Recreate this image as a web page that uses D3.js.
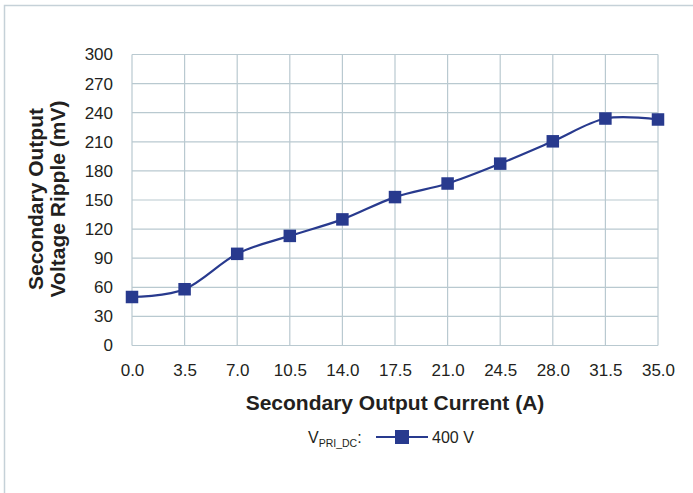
<!DOCTYPE html>
<html><head><meta charset="utf-8">
<script src="https://cdn.jsdelivr.net/npm/d3@7"></script>
<style>body{margin:0;background:#fff;}svg{display:block;font-family:"Liberation Sans",Arial,sans-serif;}</style>
</head><body>
<svg id="c" width="693" height="493"></svg>
<script>
const currents = [0, 3.5, 7.0, 10.5, 14.0, 17.5, 21.0, 24.5, 28.0, 31.5, 35.0];
const ripple400 = [50, 58, 94.5, 113, 130, 153, 167, 187.5, 210.5, 234, 233];
const xTicks = [0, 3.5, 7.0, 10.5, 14.0, 17.5, 21.0, 24.5, 28.0, 31.5, 35.0];
const yTicks = [0, 30, 60, 90, 120, 150, 180, 210, 240, 270, 300];
const seriesName = "400 V";

const svg = d3.select("#c");
const L = 132, R = 658, T = 54.5, B = 345.5;
const x = d3.scaleLinear().domain([0, 35]).range([L, R]);
const y = d3.scaleLinear().domain([0, 300]).range([B, T]);
const grid = "#b9c9d0";
const col = "#283a8e";
const txt = "#231f20";

// outer border
svg.append("path").attr("d", "M4.5,493 L4.5,5.5 L693,5.5")
  .attr("fill", "none").attr("stroke", "#c5d1d8").attr("stroke-width", 1.5);

// grid
svg.append("g").selectAll("line").data(yTicks).join("line")
  .attr("x1", L).attr("x2", R).attr("y1", d => y(d)).attr("y2", d => y(d))
  .attr("stroke", grid).attr("stroke-width", 1.2);
svg.append("g").selectAll("line").data(xTicks).join("line")
  .attr("y1", T).attr("y2", B).attr("x1", d => x(d)).attr("x2", d => x(d))
  .attr("stroke", grid).attr("stroke-width", 1.2);

// axes labels
const yAxis = d3.axisLeft(y).tickValues(yTicks).tickSize(0).tickPadding(19).tickFormat(d3.format("d"));
const gy = svg.append("g").attr("transform", `translate(${L},0)`).call(yAxis);
gy.select(".domain").remove();
gy.selectAll("text").attr("font-size", 17).attr("fill", txt).attr("font-family", "Liberation Sans, Arial, sans-serif");

const xAxis = d3.axisBottom(x).tickValues(xTicks).tickSize(0).tickPadding(18).tickFormat(d3.format(".1f"));
const gx = svg.append("g").attr("transform", `translate(0,${B})`).call(xAxis);
gx.select(".domain").remove();
gx.selectAll("text").attr("font-size", 17).attr("fill", txt).attr("font-family", "Liberation Sans, Arial, sans-serif");

// titles
svg.append("text").attr("x", (L + R) / 2).attr("y", 410).attr("text-anchor", "middle")
  .attr("font-size", 21).attr("font-weight", "bold").attr("fill", txt)
  .text("Secondary Output Current (A)");
const yt = svg.append("text").attr("transform", "translate(0,199) rotate(-90)")
  .attr("text-anchor", "middle").attr("font-size", 21).attr("font-weight", "bold").attr("fill", txt);
yt.append("tspan").attr("x", 0).attr("y", 42.5).text("Secondary Output");
yt.append("tspan").attr("x", 0).attr("y", 65).text("Voltage Ripple (mV)");

// line
const pts = currents.map((c, i) => [c, ripple400[i]]);
const line = d3.line().x(d => x(d[0])).y(d => y(d[1])).curve(d3.curveCardinal.tension(0));
svg.append("path").datum(pts).attr("d", line).attr("fill", "none")
  .attr("stroke", col).attr("stroke-width", 2.2);
const ms = 12.5;
svg.append("g").selectAll("rect").data(pts).join("rect")
  .attr("x", d => x(d[0]) - ms / 2).attr("y", d => y(d[1]) - ms / 2)
  .attr("width", ms).attr("height", ms).attr("fill", col);

// legend
const lg = svg.append("g");
const lt = lg.append("text").attr("x", 308).attr("y", 443).attr("font-size", 16).attr("fill", txt);
lt.append("tspan").text("V");
lt.append("tspan").attr("font-size", 10.5).attr("dy", 4).text("PRI_DC");
lt.append("tspan").attr("dy", -4).text(":");
lg.append("line").attr("x1", 376).attr("x2", 428).attr("y1", 437).attr("y2", 437)
  .attr("stroke", col).attr("stroke-width", 2.2);
lg.append("rect").attr("x", 395).attr("y", 430).attr("width", 14).attr("height", 14).attr("fill", col);
lg.append("text").attr("x", 432).attr("y", 443).attr("font-size", 16).attr("fill", txt).text(seriesName);
</script>
</body></html>
